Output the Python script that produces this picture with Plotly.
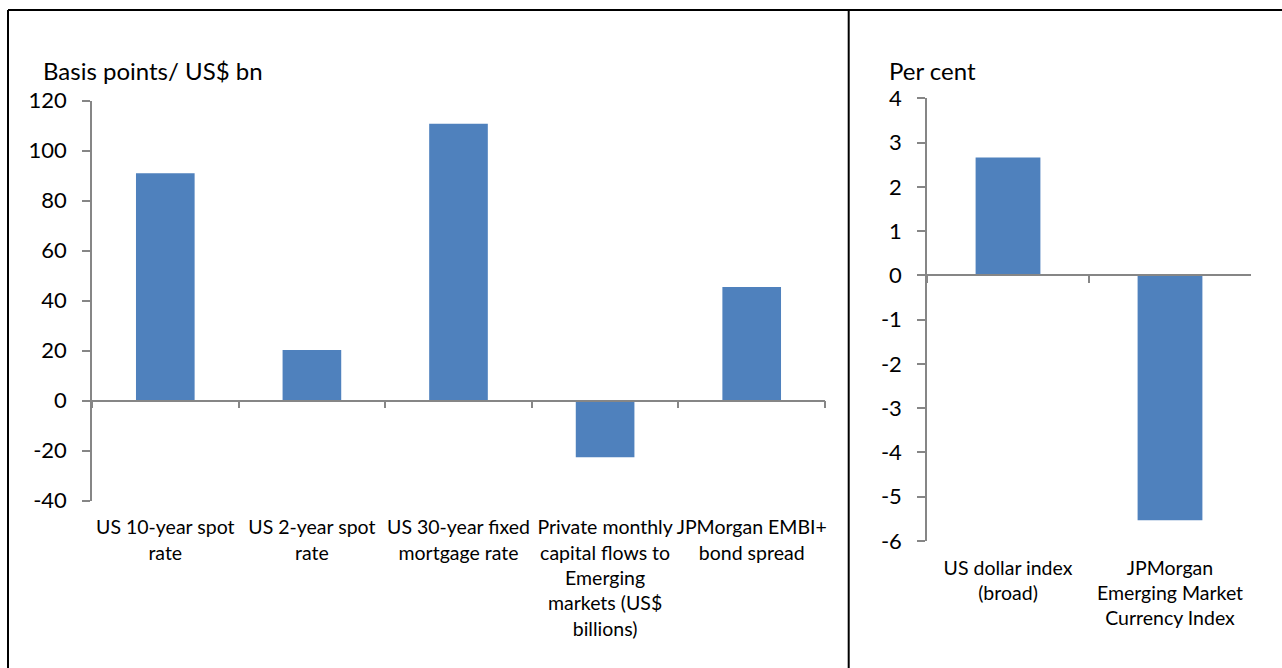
import plotly.graph_objects as go

# ---------------- data ----------------
left_categories = [
    "US 10-year spot<br>rate",
    "US 2-year spot<br>rate",
    "US 30-year fixed<br>mortgage rate",
    "Private monthly<br>capital flows to<br>Emerging<br>markets (US$<br>billions)",
    "JPMorgan EMBI+<br>bond spread",
]
left_values = [91.0, 20.3, 110.8, -22.6, 45.5]
left_tick_values = [-40, -20, 0, 20, 40, 60, 80, 100, 120]
left_title = "Basis points/ US$ bn"

right_categories = [
    "US dollar index<br>(broad)",
    "JPMorgan<br>Emerging Market<br>Currency Index",
]
right_values = [2.66, -5.53]
right_tick_values = [-6, -5, -4, -3, -2, -1, 0, 1, 2, 3, 4]
right_title = "Per cent"

# ---------------- layout constants ----------------
W, H = 1282, 668
BAR = "#4F81BD"
AX = "#868686"
FONT = "Lato"

lx = [92 / W, 825 / W]
ly = [1 - 500.7 / H, 1 - 100.7 / H]
rx = [927 / W, 1251 / W]
ry = [1 - 541 / H, 1 - 98.3 / H]

lrange = [left_tick_values[0], left_tick_values[-1]]
rrange = [right_tick_values[0], right_tick_values[-1]]


def zero_pos(dom, rng):
    return dom[0] + (0 - rng[0]) / (rng[1] - rng[0]) * (dom[1] - dom[0])


fig = go.Figure()

# real bars
fig.add_trace(go.Bar(x=left_categories, y=left_values, marker=dict(color=BAR, line=dict(width=0)),
                     xaxis="x", yaxis="y", showlegend=False, hoverinfo="x+y"))
fig.add_trace(go.Bar(x=right_categories, y=right_values, marker=dict(color=BAR, line=dict(width=0)),
                     xaxis="x2", yaxis="y2", showlegend=False, hoverinfo="x+y"))
# invisible helpers so the zero-crossing category axes are drawn
fig.add_trace(go.Scatter(x=left_categories, y=[0] * len(left_categories), mode="markers",
                         marker=dict(opacity=0), xaxis="x3", yaxis="y", showlegend=False, hoverinfo="skip"))
fig.add_trace(go.Scatter(x=right_categories, y=[0] * len(right_categories), mode="markers",
                         marker=dict(opacity=0), xaxis="x4", yaxis="y2", showlegend=False, hoverinfo="skip"))

label_font = dict(family=FONT, size=19.5, color="black")
tick_font = dict(family=FONT, size=22, color="black")

common_cat = dict(type="category", showgrid=False, zeroline=False, fixedrange=True, automargin=False)
common_y = dict(showgrid=False, zeroline=False, showline=True, linecolor=AX, linewidth=1.5,
                ticks="outside", ticklen=8, tickcolor=AX, tickwidth=1.5, tickfont=tick_font,
                ticklabelstandoff=11, fixedrange=True, automargin=False)

fig.update_layout(
    width=W, height=H,
    margin=dict(l=0, r=0, t=0, b=0, pad=0, autoexpand=False),
    paper_bgcolor="white", plot_bgcolor="white",
    bargap=0.6,
    font=dict(family=FONT, color="black"),
    xaxis=dict(**common_cat, domain=lx, anchor="y", range=[-0.5, len(left_categories) - 0.5],
               showline=False, ticks="", tickfont=label_font, ticklabelstandoff=13),
    xaxis3=dict(**common_cat, domain=lx, anchor="free", overlaying="x",
                position=zero_pos(ly, lrange), range=[-0.5, len(left_categories) - 0.5],
                showline=True, linecolor=AX, linewidth=1.5, ticks="outside", tickson="boundaries",
                ticklen=7, tickcolor=AX, tickwidth=1.5, showticklabels=False),
    yaxis=dict(**common_y, domain=ly, anchor="x", range=lrange, tickvals=left_tick_values,
               ticktext=[str(v) for v in left_tick_values]),
    xaxis2=dict(**common_cat, domain=rx, anchor="y2", range=[-0.5, len(right_categories) - 0.5],
                showline=False, ticks="", tickfont=label_font, ticklabelstandoff=13),
    xaxis4=dict(**common_cat, domain=rx, anchor="free", overlaying="x2",
                position=zero_pos(ry, rrange), range=[-0.5, len(right_categories) - 0.5],
                showline=True, linecolor=AX, linewidth=1.5, ticks="outside", tickson="boundaries",
                ticklen=7, tickcolor=AX, tickwidth=1.5, showticklabels=False),
    yaxis2=dict(**common_y, domain=ry, anchor="x2", range=rrange, tickvals=right_tick_values,
                ticktext=[str(v) for v in right_tick_values]),
)

# panel titles
fig.add_annotation(text=left_title, xref="paper", yref="paper", x=41 / W, y=1 - 71 / H,
                   xanchor="left", yanchor="middle", showarrow=False,
                   font=dict(family=FONT, size=24, color="black"))
fig.add_annotation(text=right_title, xref="paper", yref="paper", x=887 / W, y=1 - 70 / H,
                   xanchor="left", yanchor="middle", showarrow=False,
                   font=dict(family=FONT, size=24, color="black"))

# panel borders
border = dict(color="black", width=2)
top_y = 1 - 10 / H
fig.add_shape(type="line", xref="paper", yref="paper", x0=8 / W, x1=8 / W, y0=0, y1=top_y, line=border)
fig.add_shape(type="line", xref="paper", yref="paper", x0=8 / W, x1=1, y0=top_y, y1=top_y, line=border)
fig.add_shape(type="line", xref="paper", yref="paper", x0=848.7 / W, x1=848.7 / W, y0=0, y1=top_y, line=border)

fig.write_html(
    "out.html",
    config={"displayModeBar": False},
    post_script="document.body.style.margin='0';document.body.style.overflow='hidden';",
)
